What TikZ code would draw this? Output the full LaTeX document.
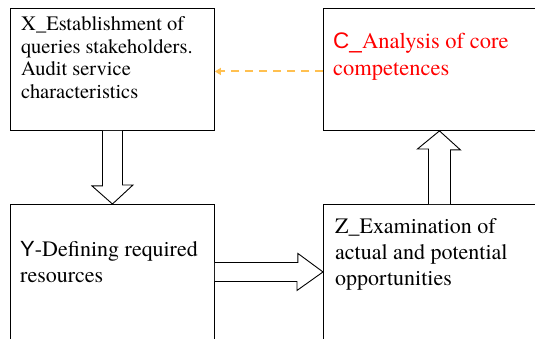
\documentclass[tikz,border=0pt]{standalone}
\usepackage{fontspec}
\setmainfont{texgyretermes-regular.otf}
\setsansfont{Liberation Sans}
\usetikzlibrary{arrows.meta,positioning}
\definecolor{dashorange}{RGB}{255,192,80}
\tikzset{
  box/.style={draw, line width=0.9pt, inner sep=0pt, anchor=north west},
  boxtext/.style={inner sep=0pt, align=left},
  blockarrow/.style={draw, line width=0.9pt, fill=white, line join=miter},
}
\begin{document}
\begin{tikzpicture}[x=1pt,y=-1pt]
\useasboundingbox (0,0) rectangle (535,338);
\clip (0,0) rectangle (535,338);
% boxes
\node[box, minimum width=204pt, minimum height=122pt] (xbox) at (10,8) {};
\node[box, minimum width=232pt, minimum height=122pt] (cbox) at (323,8) {};
\node[box, minimum width=204pt, minimum height=135pt] (ybox) at (10,204) {};
\node[box, minimum width=232pt, minimum height=135pt] (zbox) at (323,204) {};
% box texts
\node[boxtext, below right=8.5pt and 11pt of xbox.north west,
      font=\rmfamily\fontsize{20.5}{22.5}\selectfont] (xtext)
  {X\_Establishment of\\queries stakeholders.\\Audit service\\characteristics};
\node[boxtext, below right=24.8pt and 10pt of cbox.north west, text=red,
      font=\rmfamily\fontsize{22.5}{27}\selectfont] (ctext)
  {\textsf{C\_}Analysis of core\\competences};
\node[boxtext, below right=37pt and 10pt of ybox.north west,
      font=\rmfamily\fontsize{22}{26.5}\selectfont] (ytext)
  {\textsf{Y}-Defining required\\resources};
\node[boxtext, below right=14pt and 12pt of zbox.north west,
      font=\rmfamily\fontsize{22}{26}\selectfont] (ztext)
  {Z\_Examination of\\actual and potential\\opportunities};
% block arrows
\draw[blockarrow] ([xshift=-10pt]xbox.south) -- ++(0,55) -- ++(-10.5,0)
  -- (ybox.north) -- ++(20.5,-19) -- ++(-10.5,0) -- ([xshift=10pt]xbox.south);
\draw[blockarrow] ([yshift=9.5pt]ybox.east) -- ++(83,0) -- ++(0,-9)
  -- (zbox.west) -- ++(-26,18.5) -- ++(0,-9) -- ([yshift=-9.5pt]ybox.east);
\draw[blockarrow] ([xshift=-11pt]zbox.north) -- ++(0,-55) -- ++(-11,0)
  -- (cbox.south) -- ++(21,19) -- ++(-10,0) -- ([xshift=11pt]zbox.north);
% dashed link
\draw[dashorange, line width=2pt, dash pattern=on 8pt off 6pt,
      -{Triangle[length=6pt,width=7pt]}]
  ([yshift=-2pt]cbox.west) -- ([yshift=-2pt]xbox.east);
\end{tikzpicture}
\end{document}
